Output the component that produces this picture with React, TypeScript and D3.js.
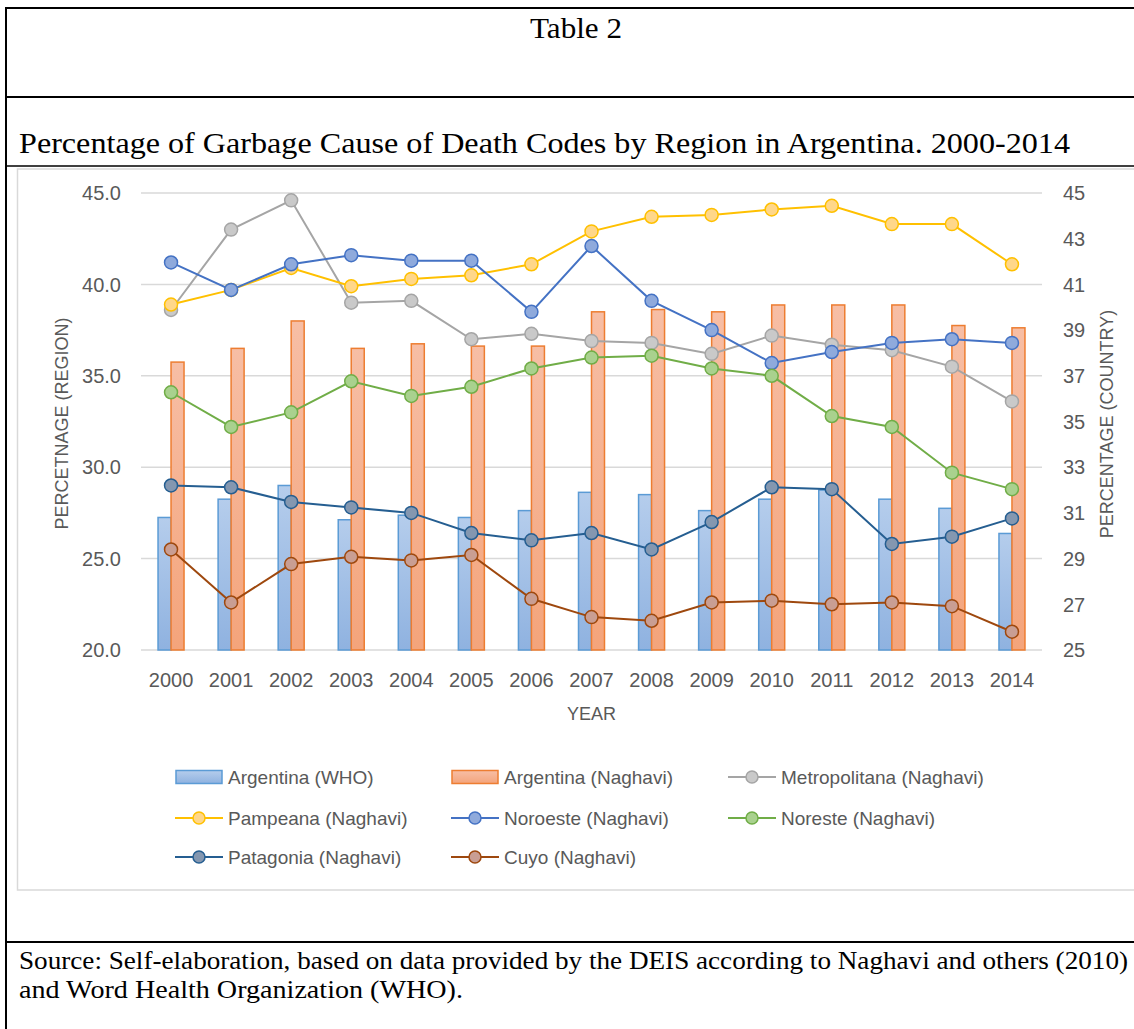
import React from "react";
import * as d3 from "d3";

const years = ["2000","2001","2002","2003","2004","2005","2006","2007","2008","2009","2010","2011","2012","2013","2014"];
// Bars (right axis, country)
const argentinaWHO = [30.8, 31.6, 32.2, 30.7, 30.9, 30.8, 31.1, 31.9, 31.8, 31.1, 31.6, 32.0, 31.6, 31.2, 30.1];
const argentinaNaghavi = [37.6, 38.2, 39.4, 38.2, 38.4, 38.3, 38.3, 39.8, 39.9, 39.8, 40.1, 40.1, 40.1, 39.2, 39.1];
// Lines (left axis, region)
const metropolitana = [38.6, 43.0, 44.6, 39.0, 39.1, 37.0, 37.3, 36.9, 36.8, 36.2, 37.2, 36.7, 36.4, 35.5, 33.6];
const pampeana = [38.9, 39.7, 40.9, 39.9, 40.3, 40.5, 41.1, 42.9, 43.7, 43.8, 44.1, 44.3, 43.3, 43.3, 41.1];
const noroeste = [41.2, 39.7, 41.1, 41.6, 41.3, 41.3, 38.5, 42.1, 39.1, 37.5, 35.7, 36.3, 36.8, 37.0, 36.8];
const noreste = [34.1, 32.2, 33.0, 34.7, 33.9, 34.4, 35.4, 36.0, 36.1, 35.4, 35.0, 32.8, 32.2, 29.7, 28.8];
const patagonia = [29.0, 28.9, 28.1, 27.8, 27.5, 26.4, 26.0, 26.4, 25.5, 27.0, 28.9, 28.8, 25.8, 26.2, 27.2];
const cuyo = [25.5, 22.6, 24.7, 25.1, 24.9, 25.2, 22.8, 21.8, 21.6, 22.6, 22.7, 22.5, 22.6, 22.4, 21.0];

const leftTicks = [20, 25, 30, 35, 40, 45];
const rightTicks = [25, 27, 29, 31, 33, 35, 37, 39, 41, 43, 45];

const lineSeries = [
  { name: "Metropolitana (Naghavi)", values: metropolitana, stroke: "#a5a5a5", fill: "#c9c9c9" },
  { name: "Pampeana (Naghavi)", values: pampeana, stroke: "#ffc000", fill: "#ffd78a" },
  { name: "Noroeste (Naghavi)", values: noroeste, stroke: "#4472c4", fill: "#8faadc" },
  { name: "Noreste (Naghavi)", values: noreste, stroke: "#70ad47", fill: "#a9d18e" },
  { name: "Patagonia (Naghavi)", values: patagonia, stroke: "#255e91", fill: "#8497b0" },
  { name: "Cuyo (Naghavi)", values: cuyo, stroke: "#9e480e", fill: "#c99e93" },
];

const SANS = "'Liberation Sans', Arial, sans-serif";
const SERIF = "'Liberation Serif', 'Times New Roman', serif";
const TXT = "#595959";

export default function App() {
  const x = d3.scaleBand().domain(years).range([141, 1042]);
  const bw = x.bandwidth();
  const cx = (y: string) => (x(y) as number) + bw / 2;
  const yL = d3.scaleLinear().domain([20, 45]).range([650, 193]);
  const yR = d3.scaleLinear().domain([25, 45]).range([650, 193]);
  const barW = 13;
  const line = d3.line<number>().x((_, i) => cx(years[i])).y((v) => yL(v));

  const legendCols = [176, 452, 729];
  const legendRows = [777, 818, 857];
  const legendItems = [
    { name: "Argentina (WHO)", type: "bar", grad: "gWho", stroke: "#5b9bd5" },
    { name: "Argentina (Naghavi)", type: "bar", grad: "gNag", stroke: "#ed7d31" },
    ...lineSeries.map((s) => ({ name: s.name, type: "line", stroke: s.stroke, fill: s.fill })),
  ] as any[];

  return (
    <svg width={1134} height={1029} style={{ position: "absolute", left: 0, top: 0, background: "#fff" }}>
      <defs>
        <linearGradient id="gWho" x1="0" y1="0" x2="0" y2="1">
          <stop offset="0" stopColor="#b5cdec" />
          <stop offset="1" stopColor="#8fb2e0" />
        </linearGradient>
        <linearGradient id="gNag" x1="0" y1="0" x2="0" y2="1">
          <stop offset="0" stopColor="#f7bea5" />
          <stop offset="1" stopColor="#f4a47b" />
        </linearGradient>
      </defs>

      {/* Table frame */}
      <line x1={6} x2={1134} y1={8} y2={8} stroke="#000" strokeWidth={2} />
      <line x1={6} x2={1134} y1={97} y2={97} stroke="#000" strokeWidth={2} />
      <line x1={6} x2={1134} y1={166} y2={166} stroke="#000" strokeWidth={1.5} />
      <line x1={6} x2={1134} y1={942} y2={942} stroke="#000" strokeWidth={2} />
      <line x1={6} x2={6} y1={7} y2={1029} stroke="#000" strokeWidth={2} />

      <text x={576} y={38} textAnchor="middle" fontFamily={SERIF} fontSize={29} textLength={92} lengthAdjust="spacingAndGlyphs" fill="#000">Table 2</text>
      <text x={19} y={153} fontFamily={SERIF} fontSize={30} textLength={1051} lengthAdjust="spacingAndGlyphs" fill="#000">Percentage of Garbage Cause of Death Codes by Region in Argentina. 2000-2014</text>
      <text x={19} y={969} fontFamily={SERIF} fontSize={25} textLength={1109} lengthAdjust="spacingAndGlyphs" fill="#000">Source: Self-elaboration, based on data provided by the DEIS according to Naghavi and others (2010)</text>
      <text x={19} y={998} fontFamily={SERIF} fontSize={25} textLength={444} lengthAdjust="spacingAndGlyphs" fill="#000">and Word Health Organization (WHO).</text>

      {/* Chart box */}
      <rect x={17.5} y={169} width={1130} height={721} fill="#fff" stroke="#d9d9d9" strokeWidth={1.5} />

      {/* Gridlines */}
      {leftTicks.map((t) => (
        <line key={t} x1={141} x2={1042} y1={yL(t)} y2={yL(t)} stroke="#d9d9d9" strokeWidth={1.5} />
      ))}

      {/* Left tick labels */}
      {leftTicks.map((t) => (
        <text key={t} x={121} y={yL(t)} dy="0.36em" textAnchor="end" fontFamily={SANS} fontSize={20} fill={TXT}>{t.toFixed(1)}</text>
      ))}
      {/* Right tick labels */}
      {rightTicks.map((t) => (
        <text key={t} x={1063} y={yR(t)} dy="0.36em" textAnchor="start" fontFamily={SANS} fontSize={20} fill={TXT}>{t}</text>
      ))}

      {/* Bars */}
      {years.map((y, i) => (
        <g key={y}>
          <rect x={cx(y) - barW} y={yR(argentinaWHO[i])} width={barW} height={650 - yR(argentinaWHO[i])} fill="url(#gWho)" stroke="#5b9bd5" strokeWidth={1.5} />
          <rect x={cx(y)} y={yR(argentinaNaghavi[i])} width={barW} height={650 - yR(argentinaNaghavi[i])} fill="url(#gNag)" stroke="#ed7d31" strokeWidth={1.5} />
        </g>
      ))}

      {/* Lines */}
      {lineSeries.map((s) => (
        <g key={s.name}>
          <path d={line(s.values) as string} fill="none" stroke={s.stroke} strokeWidth={2} />
          {s.values.map((v, i) => (
            <circle key={i} cx={cx(years[i])} cy={yL(v)} r={6.5} fill={s.fill} stroke={s.stroke} strokeWidth={1.5} />
          ))}
        </g>
      ))}

      {/* X labels */}
      {years.map((y) => (
        <text key={y} x={cx(y)} y={687} textAnchor="middle" fontFamily={SANS} fontSize={20} fill={TXT}>{y}</text>
      ))}
      <text x={591.5} y={720} textAnchor="middle" fontFamily={SANS} fontSize={18} fill={TXT}>YEAR</text>
      <text transform="translate(68,423.5) rotate(-90)" textAnchor="middle" fontFamily={SANS} fontSize={18} fill={TXT}>PERCETNAGE (REGION)</text>
      <text transform="translate(1113,424) rotate(-90)" textAnchor="middle" fontFamily={SANS} fontSize={18} fill={TXT}>PERCENTAGE (COUNTRY)</text>

      {/* Legend */}
      {legendItems.map((it, k) => {
        const lx = legendCols[k % 3];
        const ly = legendRows[Math.floor(k / 3)];
        return (
          <g key={it.name}>
            {it.type === "bar" ? (
              <rect x={lx} y={ly - 6.5} width={46} height={13} fill={`url(#${it.grad})`} stroke={it.stroke} strokeWidth={1.5} />
            ) : (
              <g>
                <line x1={lx - 1} x2={lx + 47} y1={ly} y2={ly} stroke={it.stroke} strokeWidth={2} />
                <circle cx={lx + 23} cy={ly} r={6} fill={it.fill} stroke={it.stroke} strokeWidth={1.5} />
              </g>
            )}
            <text x={lx + 52} y={ly} dy="0.36em" fontFamily={SANS} fontSize={19} fill={TXT}>{it.name}</text>
          </g>
        );
      })}
    </svg>
  );
}
